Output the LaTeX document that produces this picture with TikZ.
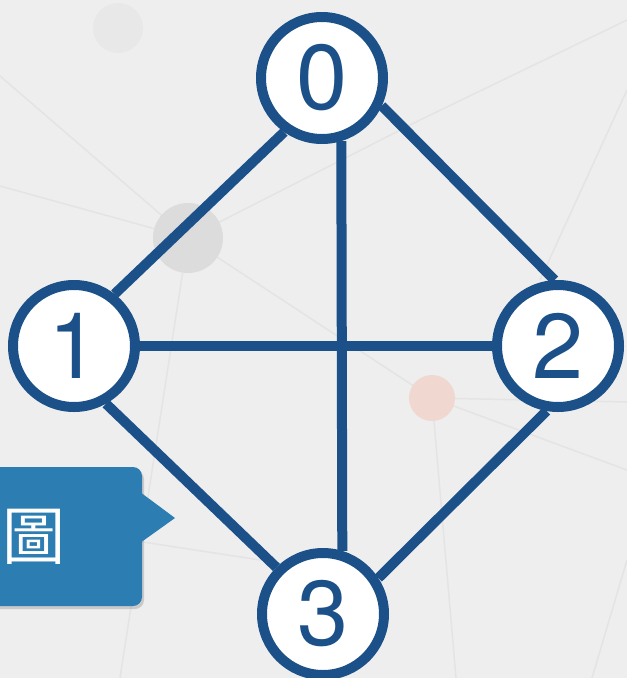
\documentclass[tikz,border=0pt]{standalone}
\usepackage{fontspec}
\setsansfont{TeX Gyre Heros}
\newfontfamily\cjkfont{Noto Sans CJK TC}
\definecolor{graphblue}{HTML}{1B5088}
\definecolor{tagblue}{HTML}{2C7EB2}
\definecolor{bggray}{HTML}{EEEEEE}
\definecolor{netgray}{HTML}{E4E4E4}
\definecolor{dotgray}{HTML}{DCDCDC}
\definecolor{dotpeach}{HTML}{F0D8D0}
\usetikzlibrary{positioning}

\begin{document}
\begin{tikzpicture}[x=1pt,y=-1pt,
vertex/.style={circle,draw=graphblue,fill=white,line width=10pt,minimum size=122pt,inner sep=0pt,text=graphblue,font=\sffamily\fontsize{92}{92}\selectfont},
edge/.style={draw=graphblue,line width=10pt},faint/.style={netgray,line width=1.5pt}]
% background with faint network
\fill[bggray] (0,0) rectangle (627,678);
\useasboundingbox (0,0) rectangle (627,678);
\draw[faint] (0,76)--(188,238)--(432,398)--(627,402); \draw[faint] (0,186)--(188,238)--(120,678);
\draw[faint] (432,398)--(456,678); \draw[faint] (432,398)--(627,470); \draw[faint] (627,20)--(420,120)--(188,238);
\draw[faint] (627,90)--(540,280); \draw[faint] (0,520)--(260,560); \draw[faint] (592,678)--(627,560);
\fill[netgray!60!bggray] (118,28) circle (25); \fill[dotgray] (188,238) circle (35); \fill[dotpeach] (432,398) circle (23);
% callout
\fill[black,opacity=.15,rounded corners=9pt] (-10,470) rectangle (144,609);
\fill[tagblue,rounded corners=9pt] (-10,467) rectangle (142,606);
\fill[tagblue] (140,492) -- (175,518) -- (140,543) -- cycle;
\node[text=white,font=\cjkfont\fontsize{63}{63}\selectfont] (tag) at (34,537) {圖};
% graph
\node[vertex] (n0) at (322,78) {0};
\node[vertex] (n1) at (74,346) {1};
\node[vertex] (n2) at (558,346) {2};
\node[vertex] (n3) at (323,614) {3};
\draw[edge] (n0.235)--(n1.52); \draw[edge] (n0.-25)--(n2.93); \draw[edge] (n0.-73)--(n3.73);
\draw[edge] (n1)--(n2); \draw[edge] (n1.-61)--(n3.135); \draw[edge] (n2.-100)--(n3.33);
\end{tikzpicture}
\end{document}
